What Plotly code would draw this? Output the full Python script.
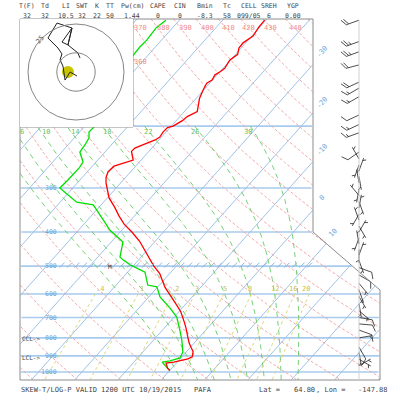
import numpy as np
import plotly.graph_objects as go

# PAFA 1200 UTC 10/19/2015
p_temp = [990, 975, 961, 943, 937, 930, 918, 906, 890, 875, 850, 825, 800, 775, 750, 725, 700,
          675, 650, 625, 600, 575, 550, 525, 500, 475, 450, 425, 400, 380, 360, 340, 320, 300,
          290, 280, 270, 260, 255, 250, 236, 231, 224, 219, 215, 208, 202, 200, 193, 188, 182,
          175, 167, 158, 151, 148, 143, 140, 137, 130, 128, 125, 120, 116, 111, 105, 100]
temp = [0.0, -1.0, -1.6, -2.4, -0.8, 0.4, 1.8, 2.4, 2.0, 1.5, 0.1, -1.3, -2.5, -3.7, -5.0, -6.4, -7.9,
        -9.5, -11.5, -13.7, -16.0, -18.2, -20.2, -22.3, -25.2, -27.9, -30.7, -33.6, -37.3, -40.7, -43.6, -46.4, -49.6, -52.1,
        -53.4, -54.5, -55.2, -55.0, -53.3, -51.8, -54.0, -53.9, -52.2, -50.9, -50.4, -50.7, -50.6, -49.6, -48.6, -48.3, -47.0,
        -48.0, -49.2, -50.1, -50.7, -50.1, -50.5, -49.9, -49.6, -50.1, -49.8, -49.5, -50.5, -50.6, -49.7, -50.2, -50.3]

p_dwpt = [990, 937, 930, 912, 877, 811, 760, 698, 658, 612, 573, 566, 520, 506, 496, 480, 471,
          427, 408, 395, 375, 358, 335, 329, 314, 300, 285, 270, 262, 253, 237, 226, 216, 208,
          200, 192, 186, 176, 168, 163, 156, 152, 148, 139, 130, 124, 119, 114, 105, 100]
dwpt = [0.0, -3.5, -1.9, -0.2, -0.8, -3.5, -6.0, -9.4, -12.8, -17.4, -20.2, -22.7, -26.0, -28.7, -30.9, -33.6, -34.9,
        -37.3, -40.6, -42.8, -45.6, -48.2, -51.8, -56.2, -59.7, -63.0, -62.8, -62.8, -62.7, -63.0, -65.8, -66.1, -66.6, -67.8,
        -67.7, -68.4, -69.2, -70.0, -70.3, -69.4, -70.4, -70.3, -70.2, -71.8, -73.2, -73.5, -73.6, -73.4, -73.8, -73.1]

# winds: direction (deg) and speed (kt)
p_wind = [100, 115, 123, 134, 150, 156, 165, 186, 198, 209, 237,
          248, 258, 268, 278, 290, 302, 315, 328, 342, 356, 370, 385, 400, 416, 432, 448, 465, 482,
          505, 530, 560, 585, 610, 640, 670, 700, 730, 760, 800, 850, 880, 920, 960]
wdir = [250, 250, 250, 255, 245, 240, 240, 245, 245, 250, 235,
        330, 200, 20, 170, 350, 190, 320, 160, 10, 210, 340, 150, 30, 200, 350, 180, 20, 160,
        110, 120, 140, 160, 150, 170, 130, 100, 95, 110, 80, 150, 170, 120, 60]
wspd = [20, 25, 25, 20, 20, 15, 15, 10, 15, 15, 10,
        5, 5, 5, 5, 5, 5, 5, 5, 5, 5, 5, 5, 5, 5, 5, 5, 5, 5,
        10, 10, 5, 5, 5, 5, 5, 10, 10, 10, 5, 10, 5, 5, 5]

# hodograph (kt)
hodo_u = [0.5, -3.1, -5.7, -6.8, -8.3, -7.3, -9.4, -14.6, -9.9, -2.1, -4.2, -7.3, -2.1, -4.2, 1.0, 2.1]
hodo_v = [-2.1, 0.0, -4.2, 3.1, 6.3, 9.4, 12.5, 17.7, 25.5, 22.9, 14.1, 15.6, 22.9, 14.1, 9.9, 7.3]
storm_u = [-4.2]
storm_v = [0.0]
hodo_rings = [10, 25]

# background lines
isotherms = list(range(-110, 60, 10))
isobars = [200, 300, 400, 500, 600, 700, 800, 900, 1000]
theta_lines = list(range(240, 460, 10))
moist_lines = list(range(2, 31, 4))
mix_ratios = [0.4, 1, 2, 3, 5, 8, 12, 16, 20]

header_names = ["T(F)", "Td", "LI", "SWT", "K", "TT", "Pw(cm)", "CAPE", "CIN", "Bmin", "Tc", "CELL", "SREH", "YGP"]
header_vals = ["32", "32", "10.5", "32", "22", "50", "1.44", "0", "0", "-8.3", "58", "099/05", "6", "0.00"]
header_x = [27, 45, 66, 82, 97, 110, 132, 158, 180, 205, 227, 249, 269, 293]

# chart geometry
SKEW = 31.5
X0, XS = 168.4, 4.33
Y0, YS = 372.0, 152.8


def skx(t, p):
    return np.asarray(t, float) + SKEW * np.log(1000.0 / np.asarray(p, float))


def pix_x(t, p):
    return X0 + XS * skx(t, p)


def pix_y(p):
    return Y0 - YS * np.log(1000.0 / np.asarray(p, float))


def p_at(y):
    return 1000.0 * np.exp(-(Y0 - y) / YS)


def right_edge(y):
    return np.interp(y, [0, 232, 290, 400], [313, 313, 380, 380])


def clipped(t, p):
    t = np.asarray(t, float)
    p = np.asarray(p, float)
    x = pix_x(t, p)
    y = pix_y(p)
    ok = (x >= 20) & (x <= right_edge(y)) & (y >= 19) & (y <= 380) & ~((x < 133) & (y < 127))
    xs = [float(v) if k else None for v, k in zip(skx(t, p), ok)]
    return xs + [None], list(p) + [None]


def family(lines):
    X, Y = [], []
    for t, p in lines:
        a, b = clipped(t, p)
        X += a
        Y += b
    return X, Y


def moist_adiabat(tw):
    def lapse(T, p):
        tc = T - 273.15
        es = 6.112 * np.exp(17.67 * tc / (tc + 243.5))
        rs = 0.622 * es / (p - es)
        num = 287.04 * T + 2.501e6 * rs
        den = 1005.7 + (2.501e6 ** 2 * rs * 0.622) / (287.04 * T ** 2)
        return num / (den * p)
    out = {}
    for direction in (-1, 1):
        T, p = tw + 273.15, 1000.0
        while 190 <= p <= 1070:
            out[round(p, 1)] = T
            dp = direction * 1.0
            k1 = lapse(T, p)
            k2 = lapse(T + k1 * dp, p + dp)
            T += 0.5 * (k1 + k2) * dp
            p += dp
    ps = np.array(sorted(out))
    ts = np.array([out[k] for k in ps]) - 273.15
    keep = (ps >= 200) & (ps <= 1060)
    return ts[keep], ps[keep]


def td_from_w(w, p):
    e = w * p / (622.0 + w)
    a = np.log(e / 6.112)
    return 243.5 * a / (17.67 - a)


p_full = np.geomspace(95, 1070, 500)
fig = go.Figure()

# isobars
ib = [(np.linspace(-150, 80, 600), np.full(600, pb)) for pb in isobars]
X, Y = family(ib)
fig.add_trace(go.Scatter(x=X, y=Y, mode="lines", line=dict(color="#a9cbee", width=1.6), hoverinfo="skip"))
# isotherms
X, Y = family([(np.full(p_full.size, t), p_full) for t in isotherms])
fig.add_trace(go.Scatter(x=X, y=Y, mode="lines", line=dict(color="#94bbe3", width=0.9), hoverinfo="skip"))
# dry adiabats
X, Y = family([(th * (p_full / 1000.0) ** 0.2857 - 273.15, p_full) for th in theta_lines])
fig.add_trace(go.Scatter(x=X, y=Y, mode="lines", line=dict(color="#f2a0a0", width=0.9, dash="3px,2px"), hoverinfo="skip"))
# moist adiabats
X, Y = family([moist_adiabat(tw) for tw in moist_lines])
fig.add_trace(go.Scatter(x=X, y=Y, mode="lines", line=dict(color="#66cc66", width=0.9, dash="5px,4px"), hoverinfo="skip"))
# mixing ratio
p_mix = np.geomspace(600, 1070, 120)
X, Y = family([(td_from_w(w, p_mix), p_mix) for w in mix_ratios])
fig.add_trace(go.Scatter(x=X, y=Y, mode="lines", line=dict(color="#d6d26a", width=0.9, dash="3px,3px"), hoverinfo="skip"))

# hatch along 500 hPa
hx = list(np.arange(62, 312, 7.5))
fig.add_trace(go.Scatter(x=hx, y=[497] * len(hx), xaxis="x2", yaxis="y", mode="markers",
                         marker=dict(symbol="line-ne", size=5, line=dict(color="#8fb6e0", width=1)), hoverinfo="skip"))

# profiles
fig.add_trace(go.Scatter(x=skx(dwpt, p_dwpt), y=p_dwpt, mode="lines", line=dict(color="#00e000", width=1.3), hoverinfo="skip"))
fig.add_trace(go.Scatter(x=skx(temp, p_temp), y=p_temp, mode="lines", line=dict(color="#ff0000", width=1.3), hoverinfo="skip"))

# frame
fig.add_trace(go.Scatter(x=[20, 313, 313, 380, 380, 20, 20, None, 133, 133, 20],
                         y=[19, 19, 232, 290, 380, 380, 19, None, 19, 127, 127],
                         xaxis="x2", yaxis="y2", mode="lines", line=dict(color="#8c8c8c", width=1), hoverinfo="skip"))
fig.add_trace(go.Scatter(x=[359, 359], y=[20, 380], xaxis="x2", yaxis="y2", mode="lines",
                         line=dict(color="#d0d0d0", width=1), hoverinfo="skip"))

# wind barbs
BX, STAFF, BLEN, GAP = 359, 13.5, 7.0, 2.6
bx, by = [], []
for p, d, s in zip(p_wind, wdir, wspd):
    a = np.deg2rad(d)
    ux, uy = np.sin(a), -np.cos(a)
    nx, ny = -uy, ux
    segs = [[(0, 0), (STAFF * ux, STAFF * uy)]]
    n10, n5 = int(s // 10), int((s % 10) >= 5)
    pos = STAFF
    for i in range(n10):
        sx, sy = pos * ux, pos * uy
        segs.append([(sx, sy), (sx + BLEN * (0.87 * nx + 0.5 * ux), sy + BLEN * (0.87 * ny + 0.5 * uy))])
        pos -= GAP
    if n5:
        if n10 == 0:
            pos -= GAP
        sx, sy = pos * ux, pos * uy
        segs.append([(sx, sy), (sx + 0.5 * BLEN * (0.87 * nx + 0.5 * ux), sy + 0.5 * BLEN * (0.87 * ny + 0.5 * uy))])
    for seg in segs:
        for dx, dy in seg:
            bx.append(BX + dx)
            by.append(p * np.exp(dy / YS))
        bx.append(None)
        by.append(None)
fig.add_trace(go.Scatter(x=bx, y=by, xaxis="x2", yaxis="y", mode="lines",
                         line=dict(color="#222222", width=0.8), hoverinfo="skip"))

# hodograph
fig.add_trace(go.Scatter(x=storm_u, y=storm_v, xaxis="x3", yaxis="y3", mode="markers",
                         marker=dict(color="#c8c400", size=12), hoverinfo="skip"))
fig.add_trace(go.Scatter(x=hodo_u, y=hodo_v, xaxis="x3", yaxis="y3", mode="lines",
                         line=dict(color="#222222", width=1), hoverinfo="skip"))
shapes = [dict(type="circle", xref="x3", yref="y3", x0=-r, x1=r, y0=-r, y1=r,
               line=dict(color="#777777", width=0.9)) for r in hodo_rings]

# text
mono = "DejaVu Sans Mono"
ann = []


def txt(x, y, s, color="#444444", size=7, xa="center", angle=0, yref="y2"):
    ann.append(dict(x=x, y=y, xref="x2", yref=yref, text=s, showarrow=False, xanchor=xa, yanchor="middle",
                    textangle=angle, borderpad=0, font=dict(family=mono, size=size, color=color)))


for name, val, x in zip(header_names, header_vals, header_x):
    txt(x, 6, name, size=6.5)
    txt(x, 16, val, size=6.5)
txt(20, 390, "SKEW-T/LOG-P VALID 1200 UTC 10/19/2015", xa="left")
txt(193, 390, "PAFA", xa="left")
txt(258, 390, "Lat =", xa="left")
txt(293, 390, "64.80", xa="left")
txt(315, 390, ", Lon =", xa="left")
txt(357, 390, "-147.88", xa="left")

for pb in [300, 400, 500, 600, 700, 800, 900, 1000]:
    txt(58, float(np.log10(pb)), str(pb), color="#6d9fd6", xa="right", yref="y", size=6.5)
txt(110, float(np.log10(500)), "M", color="#333333", size=6, yref="y")
txt(21, 338, "CCL->", xa="left", size=6)
txt(21, 357, "LCL->", xa="left", size=6)

for s, x, y in [("-30", 322, 52), ("-20", 322, 103), ("-10", 322, 150), ("0", 322, 198), ("10", 333, 233)]:
    txt(x, y, s, color="#6d9fd6", angle=-48)
for s, x in zip(["370", "380", "390", "400", "410", "420", "430", "440"], [140, 163, 185, 207, 228, 248, 270, 295]):
    txt(x, 28, s, color="#f08a8a")
txt(140, 62, "360", color="#f08a8a")
for s, x in zip(["6", "10", "14", "18", "22", "26", "30"], [22, 46, 75, 107, 148, 195, 248]):
    txt(x, 132, s, color="#66c266")
for s, x in zip([".4", "1", "2", "3", "5", "8", "12", "16", "20"], [100, 142, 177, 197, 225, 250, 275, 293, 306]):
    txt(x, 289, s, color="#c8c050")
txt(40, 40, "25", color="#555555", angle=-50)

fig.update_layout(
    width=400, height=400, margin=dict(l=0, r=0, t=0, b=0),
    paper_bgcolor="white", plot_bgcolor="white", showlegend=False,
    xaxis=dict(range=[(0 - X0) / XS, (400 - X0) / XS], visible=False),
    yaxis=dict(type="log", range=[np.log10(p_at(400)), np.log10(p_at(0))], visible=False),
    xaxis2=dict(range=[0, 400], overlaying="x", visible=False),
    yaxis2=dict(range=[400, 0], overlaying="y", visible=False),
    xaxis3=dict(domain=[20 / 400, 133 / 400], range=[(20 - 76) / 1.92, (133 - 76) / 1.92], anchor="y3", visible=False),
    yaxis3=dict(domain=[1 - 127 / 400, 1 - 19 / 400], range=[(72 - 127) / 1.92, (72 - 19) / 1.92], anchor="x3", visible=False),
    shapes=shapes, annotations=ann,
)
# page has a default 8px body margin; drop it so the figure sits at the window corner
fig.write_html("out.html", config={"displayModeBar": False},
               post_script="document.body.style.margin='0px';")
